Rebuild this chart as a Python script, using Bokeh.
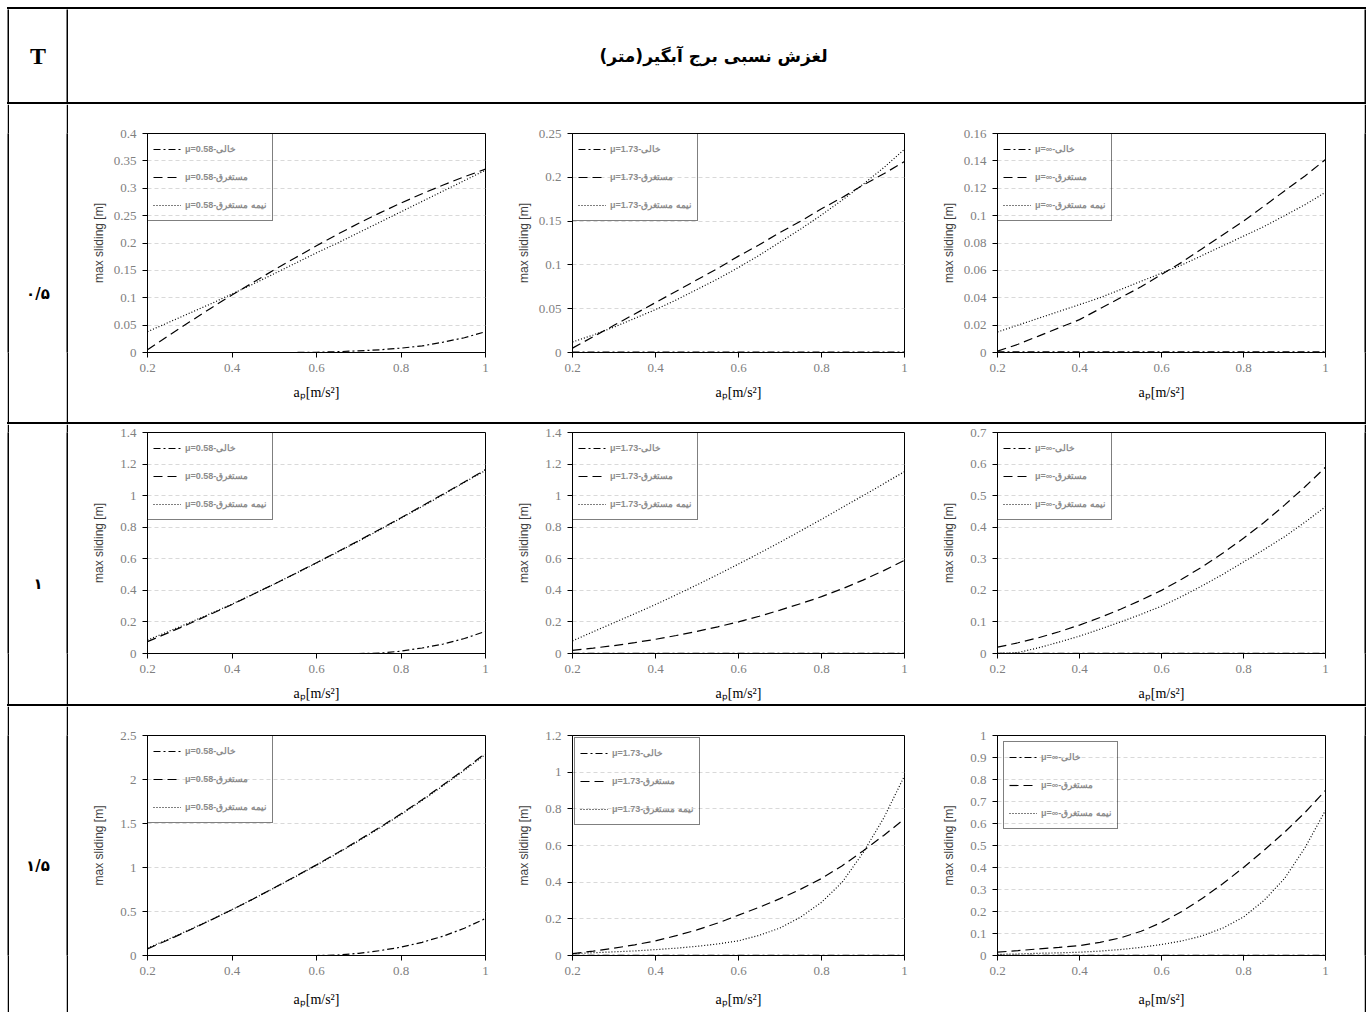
from bokeh.plotting import figure
from bokeh.layouts import row, column
from bokeh.models import Range1d, FixedTicker, Legend, LegendItem, Div
from bokeh.core.properties import value
from bokeh.embed import file_html
from bokeh.resources import INLINE

# ---------------- data ----------------
TITLE = "لغزش نسبی  برج آبگیر(متر)"
T_HEAD = "T"
T_LABELS = ["۰/۵", "۱", "۱/۵"]
MU_LABELS = ["μ=0.58", "μ=1.73", "μ=∞"]
CONDITIONS = ["خالی", "مستغرق", "نیمه مستغرق"]
X_TITLE = "aₚ[m/s²]"
Y_TITLE = "max sliding [m]"

x = [0.2, 0.25, 0.3, 0.35, 0.4, 0.45, 0.5, 0.55, 0.6, 0.65, 0.7, 0.75, 0.8, 0.85, 0.9, 0.95, 1.0]
x_ticks = [0.2, 0.4, 0.6, 0.8, 1.0]
x_tick_labels = ["0.2", "0.4", "0.6", "0.8", "1"]
zeros = [0.0005] * 17

# T = 0.5
t05_mu058_empty = [0, 0, 0, 0, 0, 0, 0, 0, 0.0005, 0.0015, 0.003, 0.005, 0.008, 0.012, 0.019, 0.027, 0.038]
t05_mu058_sub = [0.005, 0.031, 0.056, 0.081, 0.105, 0.128, 0.151, 0.173, 0.195, 0.216, 0.236, 0.255, 0.273, 0.290, 0.306, 0.321, 0.335]
t05_mu058_semi = [0.038, 0.055, 0.072, 0.089, 0.107, 0.125, 0.144, 0.163, 0.182, 0.200, 0.219, 0.238, 0.257, 0.276, 0.295, 0.314, 0.333]
t05_mu173_empty = zeros
t05_mu173_sub = [0.005, 0.018, 0.031, 0.044, 0.057, 0.070, 0.083, 0.096, 0.110, 0.123, 0.137, 0.150, 0.164, 0.177, 0.191, 0.204, 0.218]
t05_mu173_semi = [0.012, 0.020, 0.029, 0.039, 0.049, 0.060, 0.072, 0.084, 0.097, 0.111, 0.126, 0.141, 0.157, 0.174, 0.192, 0.211, 0.232]
t05_muinf_empty = zeros
t05_muinf_sub = [0.001, 0.006, 0.012, 0.018, 0.024, 0.032, 0.040, 0.048, 0.057, 0.066, 0.076, 0.086, 0.096, 0.107, 0.118, 0.129, 0.141]
t05_muinf_semi = [0.015, 0.020, 0.025, 0.030, 0.035, 0.040, 0.046, 0.052, 0.058, 0.064, 0.071, 0.078, 0.085, 0.092, 0.100, 0.108, 0.117]

# T = 1
t10_mu058_empty = [0, 0, 0, 0, 0, 0, 0, 0, 0, 0, 0, 0.002, 0.015, 0.035, 0.06, 0.095, 0.14]
t10_mu058_sub = [0.075, 0.132, 0.190, 0.250, 0.310, 0.375, 0.440, 0.507, 0.575, 0.645, 0.715, 0.787, 0.860, 0.935, 1.010, 1.087, 1.165]
t10_mu058_semi = [0.085, 0.140, 0.196, 0.254, 0.313, 0.376, 0.440, 0.506, 0.573, 0.642, 0.712, 0.784, 0.857, 0.931, 1.007, 1.084, 1.160]
t10_mu173_empty = zeros
t10_mu173_sub = [0.020, 0.034, 0.050, 0.069, 0.090, 0.114, 0.140, 0.169, 0.200, 0.236, 0.275, 0.316, 0.360, 0.410, 0.465, 0.525, 0.590]
t10_mu173_semi = [0.080, 0.138, 0.195, 0.252, 0.310, 0.372, 0.435, 0.500, 0.567, 0.635, 0.705, 0.777, 0.850, 0.925, 1.000, 1.076, 1.152]
t10_muinf_empty = zeros
t10_muinf_sub = [0.020, 0.034, 0.050, 0.069, 0.090, 0.114, 0.140, 0.169, 0.200, 0.236, 0.275, 0.318, 0.365, 0.415, 0.470, 0.528, 0.590]
t10_muinf_semi = [0.000, 0.003, 0.018, 0.036, 0.055, 0.077, 0.100, 0.124, 0.150, 0.181, 0.215, 0.251, 0.290, 0.329, 0.370, 0.416, 0.465]

# T = 1.5
t15_mu058_empty = [0, 0, 0, 0, 0, 0, 0, 0, 0, 0.005, 0.025, 0.055, 0.095, 0.15, 0.22, 0.31, 0.42]
t15_mu058_sub = [0.075, 0.180, 0.290, 0.403, 0.520, 0.643, 0.770, 0.898, 1.030, 1.168, 1.310, 1.457, 1.610, 1.770, 1.940, 2.115, 2.300]
t15_mu058_semi = [0.085, 0.186, 0.294, 0.405, 0.521, 0.642, 0.767, 0.895, 1.026, 1.162, 1.303, 1.450, 1.602, 1.762, 1.930, 2.105, 2.285]
t15_mu173_empty = zeros
t15_mu173_sub = [0.010, 0.024, 0.040, 0.058, 0.080, 0.108, 0.140, 0.177, 0.220, 0.263, 0.310, 0.362, 0.420, 0.490, 0.570, 0.655, 0.745]
t15_mu173_semi = [0.010, 0.015, 0.020, 0.025, 0.032, 0.040, 0.050, 0.063, 0.080, 0.110, 0.150, 0.210, 0.290, 0.400, 0.560, 0.750, 0.980]
t15_muinf_empty = zeros
t15_muinf_sub = [0.015, 0.022, 0.030, 0.037, 0.045, 0.060, 0.080, 0.110, 0.150, 0.200, 0.260, 0.327, 0.400, 0.478, 0.560, 0.650, 0.750]
t15_muinf_semi = [0.005, 0.007, 0.010, 0.012, 0.015, 0.020, 0.027, 0.037, 0.050, 0.066, 0.090, 0.125, 0.175, 0.250, 0.350, 0.490, 0.660]

# y axes
y_ticks_t05 = [[0, 0.05, 0.1, 0.15, 0.2, 0.25, 0.3, 0.35, 0.4],
               [0, 0.05, 0.1, 0.15, 0.2, 0.25],
               [0, 0.02, 0.04, 0.06, 0.08, 0.1, 0.12, 0.14, 0.16]]
y_labels_t05 = [["0", "0.05", "0.1", "0.15", "0.2", "0.25", "0.3", "0.35", "0.4"],
                ["0", "0.05", "0.1", "0.15", "0.2", "0.25"],
                ["0", "0.02", "0.04", "0.06", "0.08", "0.1", "0.12", "0.14", "0.16"]]
y_ticks_t10 = [[0, 0.2, 0.4, 0.6, 0.8, 1.0, 1.2, 1.4],
               [0, 0.2, 0.4, 0.6, 0.8, 1.0, 1.2, 1.4],
               [0, 0.1, 0.2, 0.3, 0.4, 0.5, 0.6, 0.7]]
y_labels_t10 = [["0", "0.2", "0.4", "0.6", "0.8", "1", "1.2", "1.4"],
                ["0", "0.2", "0.4", "0.6", "0.8", "1", "1.2", "1.4"],
                ["0", "0.1", "0.2", "0.3", "0.4", "0.5", "0.6", "0.7"]]
y_ticks_t15 = [[0, 0.5, 1.0, 1.5, 2.0, 2.5],
               [0, 0.2, 0.4, 0.6, 0.8, 1.0, 1.2],
               [0, 0.1, 0.2, 0.3, 0.4, 0.5, 0.6, 0.7, 0.8, 0.9, 1.0]]
y_labels_t15 = [["0", "0.5", "1", "1.5", "2", "2.5"],
                ["0", "0.2", "0.4", "0.6", "0.8", "1", "1.2"],
                ["0", "0.1", "0.2", "0.3", "0.4", "0.5", "0.6", "0.7", "0.8", "0.9", "1"]]

rows_data = [
    [[t05_mu058_empty, t05_mu058_sub, t05_mu058_semi],
     [t05_mu173_empty, t05_mu173_sub, t05_mu173_semi],
     [t05_muinf_empty, t05_muinf_sub, t05_muinf_semi]],
    [[t10_mu058_empty, t10_mu058_sub, t10_mu058_semi],
     [t10_mu173_empty, t10_mu173_sub, t10_mu173_semi],
     [t10_muinf_empty, t10_muinf_sub, t10_muinf_semi]],
    [[t15_mu058_empty, t15_mu058_sub, t15_mu058_semi],
     [t15_mu173_empty, t15_mu173_sub, t15_mu173_semi],
     [t15_muinf_empty, t15_muinf_sub, t15_muinf_semi]],
]
rows_ticks = [y_ticks_t05, y_ticks_t10, y_ticks_t15]
rows_labels = [y_labels_t05, y_labels_t10, y_labels_t15]

# ---------------- layout geometry ----------------
OFFSET = 7
LINE = 2
LABEL_W = 57
CHART_W = [442, 425, 429]
BORDER_L = [79, 62, 62]
BORDER_R = [25, 31, 39]
HEAD_H = 93
ROW_H = [318, 280, 306]
BORDER_T = [29, 8, 29]
BORDER_B = [70, 51, 57]
LABEL_FROM_TOP = [189, 159, 159]   # vertical centre of the row label, from top of the row
LEGEND_MARGIN = [[0, 0, 0], [0, 0, 0], [0, 2, 6]]
DASHES = ["7 3 2 3", "9 5", "1 2"]
TOTAL_W = LINE * 3 + LABEL_W + sum(CHART_W)


def solid(w, h, color="black"):
    p = figure(width=w, height=h, toolbar_location=None, output_backend="svg", title=None,
               min_border=0, x_axis_type=None, y_axis_type=None,
               x_range=Range1d(0, w), y_range=Range1d(0, h))
    p.outline_line_color = None
    p.background_fill_color = color
    p.border_fill_color = color
    return p


def hline(w, h=LINE):
    return Div(text="", width=w, height=h, margin=0,
               styles={"background-color": "black", "width": f"{w}px", "height": f"{h}px"})


def text_cell(w, h, txt, font, size, style="bold"):
    """Text centred in its own cell."""
    p = solid(w, h, "white")
    p.text(x=[w / 2], y=[h / 2], text=[txt], text_align="center", text_baseline="middle",
           text_font=value(font), text_font_size=size, text_font_style=style, text_color="black")
    return p


def row_label(w, h, txt, from_top):
    below = h - from_top
    cell_h = 2 * below
    gap = h - cell_h
    return column(solid(w, gap, "white"), text_cell(w, cell_h, txt, "DejaVu Sans", "15px"))


def label_width(s):
    return sum(3.25 if c == "." else 6.5 for c in s)


def chart(ri, ci):
    ymax = rows_ticks[ri][ci][-1]
    p = figure(width=CHART_W[ci], height=ROW_H[ri], toolbar_location=None, output_backend="svg",
               title=None, x_range=Range1d(0.2, 1.0), y_range=Range1d(0, ymax),
               min_border_left=BORDER_L[ci], min_border_right=BORDER_R[ci],
               min_border_top=BORDER_T[ri], min_border_bottom=BORDER_B[ri])
    p.outline_line_color = "black"
    p.outline_line_width = 1
    p.xgrid.visible = False
    p.ygrid.grid_line_color = "#d9d9d9"
    p.ygrid.grid_line_dash = "4 3"
    p.ygrid.ticker = FixedTicker(ticks=rows_ticks[ri][ci])

    p.xaxis.ticker = FixedTicker(ticks=x_ticks)
    p.xaxis.major_label_overrides = dict(zip(x_ticks, x_tick_labels))
    p.yaxis.ticker = FixedTicker(ticks=rows_ticks[ri][ci])
    p.yaxis.major_label_overrides = dict(zip(rows_ticks[ri][ci], rows_labels[ri][ci]))
    for ax in (p.xaxis, p.yaxis):
        ax.axis_line_color = "black"
        ax.axis_line_width = 1
        ax.major_tick_line_color = "black"
        ax.major_tick_in = 0
        ax.major_tick_out = 5
        ax.minor_tick_line_color = None
        ax.major_label_text_font = "Liberation Serif"
        ax.major_label_text_font_size = "13px"
        ax.major_label_text_color = "#808080"
        ax.major_label_standoff = 6
    p.xaxis.axis_label = X_TITLE
    p.xaxis.axis_label_text_font = "Liberation Serif"
    p.xaxis.axis_label_text_font_size = "14px"
    p.xaxis.axis_label_text_font_style = "normal"
    p.xaxis.axis_label_text_color = "black"
    p.xaxis.axis_label_standoff = 10 if ri < 2 else 14
    p.yaxis.axis_label = Y_TITLE
    p.yaxis.axis_label_text_font = "Liberation Sans"
    p.yaxis.axis_label_text_font_size = "12px"
    p.yaxis.axis_label_text_font_style = "normal"
    p.yaxis.axis_label_text_color = "#404040"
    widest = max(label_width(s) for s in rows_labels[ri][ci])
    p.yaxis.axis_label_standoff = int(max(4, 44 - 16 - widest))

    items = []
    for k, ys in enumerate(rows_data[ri][ci]):
        r = p.line(x, ys, line_color="black", line_width=1.2, line_dash=DASHES[k])
        items.append(LegendItem(label=MU_LABELS[ci] + "-" + CONDITIONS[k], renderers=[r]))
    leg = Legend(items=items, location="top_left", margin=LEGEND_MARGIN[ri][ci])
    leg.border_line_color = "black"
    leg.border_line_width = 1
    leg.background_fill_alpha = 0
    leg.label_text_font = "Liberation Sans"
    leg.label_text_font_size = "9px"
    leg.label_text_font_style = "bold"
    leg.label_text_color = "#8c8c8c"
    leg.glyph_width = 28
    leg.glyph_height = 20
    leg.label_height = 20
    leg.label_standoff = 4
    leg.spacing = 8
    leg.padding = 5
    p.add_layout(leg)
    return p


content_w = sum(CHART_W)
header = row(solid(LINE, HEAD_H),
             text_cell(LABEL_W, HEAD_H, T_HEAD, "Liberation Serif", "24px"),
             solid(LINE, HEAD_H),
             text_cell(content_w, HEAD_H, TITLE, "DejaVu Sans", "17px"),
             solid(LINE, HEAD_H))

children = [hline(TOTAL_W), header, hline(TOTAL_W)]
for ri in range(3):
    h = ROW_H[ri]
    r = row(solid(LINE, h),
            row_label(LABEL_W, h, T_LABELS[ri], LABEL_FROM_TOP[ri]),
            solid(LINE, h),
            chart(ri, 0), chart(ri, 1), chart(ri, 2),
            solid(LINE, h))
    children.append(r)
    if ri < 2:
        children.append(hline(TOTAL_W))

table = column(*children)
total_h = LINE * 4 + HEAD_H + sum(ROW_H)
page = column(solid(TOTAL_W + OFFSET, OFFSET, "white"),
              row(solid(OFFSET, total_h, "white"), table))
open("out.html", "w").write(file_html(page, INLINE))
